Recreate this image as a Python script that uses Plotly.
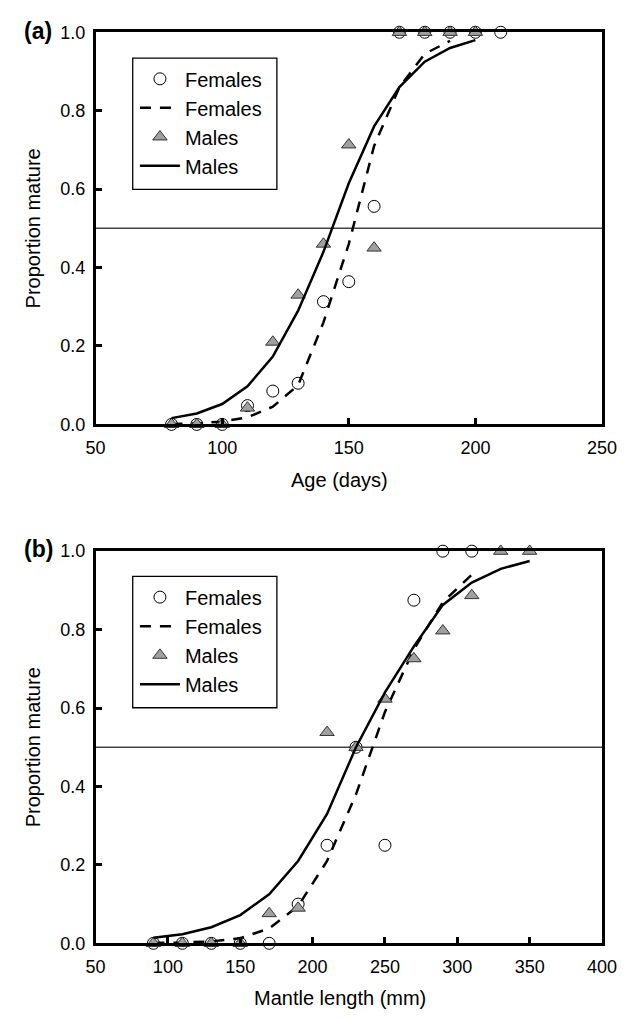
import plotly.graph_objects as go

# ---------------- data: panel (a) age ----------------
age_f_obs = [80, 90, 100, 110, 120, 130, 140, 150, 160, 170, 180, 190, 200, 210]
prop_f_age_obs = [0, 0, 0, 0.048, 0.085, 0.105, 0.313, 0.364, 0.556, 1, 1, 1, 1, 1]
age_m_obs = [80, 90, 100, 110, 120, 130, 140, 150, 160, 170, 180, 190, 200]
prop_m_age_obs = [0, 0, 0, 0.042, 0.21, 0.33, 0.46, 0.713, 0.45, 1, 1, 1, 1]
age_f_fit = [80, 90, 100, 110, 120, 130, 140, 150, 160, 170, 180, 190]
prop_f_age_fit = [0.001, 0.003, 0.007, 0.018, 0.045, 0.10, 0.26, 0.46, 0.71, 0.86, 0.945, 0.978]
age_m_fit = [80, 90, 100, 110, 120, 130, 140, 150, 160, 170, 180, 190, 200]
prop_m_age_fit = [0.016, 0.028, 0.052, 0.097, 0.173, 0.29, 0.44, 0.615, 0.76, 0.86, 0.925, 0.96, 0.98]

# ---------------- data: panel (b) mantle length ----------------
ml_f_obs = [90, 110, 130, 150, 170, 190, 210, 230, 250, 270, 290, 310]
prop_f_ml_obs = [0, 0, 0, 0, 0, 0.10, 0.25, 0.50, 0.25, 0.875, 1, 1]
ml_m_obs = [90, 110, 130, 150, 170, 190, 210, 230, 250, 270, 290, 310, 330, 350]
prop_m_ml_obs = [0, 0, 0, 0, 0.076, 0.09, 0.538, 0.50, 0.623, 0.726, 0.797, 0.887, 1, 1]
ml_f_fit = [90, 110, 130, 150, 170, 190, 210, 230, 250, 270, 290, 310]
prop_f_ml_fit = [0.001, 0.002, 0.005, 0.013, 0.038, 0.095, 0.21, 0.38, 0.59, 0.75, 0.87, 0.94]
ml_m_fit = [90, 110, 130, 150, 170, 190, 210, 230, 250, 270, 290, 310, 330, 350]
prop_m_ml_fit = [0.014, 0.023, 0.041, 0.072, 0.125, 0.21, 0.33, 0.50, 0.64, 0.757, 0.863, 0.92, 0.955, 0.975]

reference_level = 0.5
y_ticks = [0, 0.2, 0.4, 0.6, 0.8, 1.0]

FONT = "Liberation Sans, Arial, Helvetica, sans-serif"
W, H = 642, 1019

fig = go.Figure()


def add_panel(xa, ya, legend, fx, fy, ffx, ffy, mx, my, mfx, mfy):
    fig.add_trace(go.Scatter(x=fx, y=fy, mode="markers", name="Females",
                             xaxis=xa, yaxis=ya, legend=legend, cliponaxis=False,
                             marker=dict(symbol="circle", size=12, color="white",
                                         line=dict(color="black", width=1))))
    fig.add_trace(go.Scatter(x=ffx, y=ffy, mode="lines", name="Females",
                             xaxis=xa, yaxis=ya, legend=legend, cliponaxis=False,
                             line=dict(color="black", width=2.5, dash="11px,9px")))
    fig.add_trace(go.Scatter(x=mx, y=my, mode="markers", name="Males",
                             xaxis=xa, yaxis=ya, legend=legend, cliponaxis=False,
                             marker=dict(symbol="triangle-up", size=12.5, color="#a0a0a0",
                                         line=dict(color="#333333", width=1))))
    fig.add_trace(go.Scatter(x=mfx, y=mfy, mode="lines", name="Males",
                             xaxis=xa, yaxis=ya, legend=legend, cliponaxis=False,
                             line=dict(color="black", width=2.5)))


add_panel("x", "y", "legend", age_f_obs, prop_f_age_obs, age_f_fit, prop_f_age_fit,
          age_m_obs, prop_m_age_obs, age_m_fit, prop_m_age_fit)
add_panel("x2", "y2", "legend2", ml_f_obs, prop_f_ml_obs, ml_f_fit, prop_f_ml_fit,
          ml_m_obs, prop_m_ml_obs, ml_m_fit, prop_m_ml_fit)

# horizontal reference line at 0.5
for xr, yr in (("x domain", "y"), ("x2 domain", "y2")):
    fig.add_shape(type="line", xref=xr, yref=yr, x0=0, x1=1,
                  y0=reference_level, y1=reference_level,
                  line=dict(color="#444444", width=1.5), layer="below")

# legend frames (boxes behind the legends)
for top in (49, 577.7):
    fig.add_shape(type="rect", xref="paper", yref="paper",
                  x0=127.7 / W, x1=277.7 / W, y0=1 - (top + 134) / H, y1=1 - top / H,
                  line=dict(color="black", width=1.3), fillcolor="white", layer="above")

x_dom = [89 / W, 616 / W]
ya_dom = [1 - 422.7 / H, 1 - 22.7 / H]
yb_dom = [1 - 952 / H, 1 - 552 / H]

axis_common = dict(showline=True, linecolor="black", linewidth=2.5, mirror=True,
                   ticks="inside", ticklen=7, tickwidth=2.5, tickcolor="black",
                   showgrid=False, zeroline=False,
                   tickfont=dict(family=FONT, size=18, color="black"))

legend_common = dict(xanchor="left", yanchor="top",
                     bgcolor="rgba(0,0,0,0)", borderwidth=0,
                     font=dict(family=FONT, size=20, color="black"),
                     itemwidth=40, tracegroupgap=0)

fig.update_layout(
    width=W, height=H, autosize=False,
    margin=dict(l=0, r=0, t=0, b=0),
    paper_bgcolor="white", plot_bgcolor="white",
    font=dict(family=FONT, color="black"),
    xaxis=dict(domain=x_dom, anchor="y", range=[50, 250], dtick=50, tick0=50,
               ticklabelstandoff=5, **axis_common),
    yaxis=dict(domain=ya_dom, anchor="x", range=[0, 1], tickvals=y_ticks,
               tickformat=".1f", ticklabelstandoff=4, **axis_common),
    xaxis2=dict(domain=x_dom, anchor="y2", range=[50, 400], dtick=50, tick0=50,
                ticklabelstandoff=5, **axis_common),
    yaxis2=dict(domain=yb_dom, anchor="x2", range=[0, 1], tickvals=y_ticks,
                tickformat=".1f", ticklabelstandoff=4, **axis_common),
    legend=dict(x=130 / W, y=1 - 50.3 / H, **legend_common),
    legend2=dict(x=130 / W, y=1 - 579 / H, **legend_common),
    showlegend=True,
)

annots = [
    dict(text="<b>(a)</b>", x=29.5 / W, y=1 - 21 / H, font=dict(size=23)),
    dict(text="<b>(b)</b>", x=29.5 / W, y=1 - 550 / H, font=dict(size=23)),
    dict(text="Age (days)", x=343 / W, y=1 - 479 / H, font=dict(size=20)),
    dict(text="Mantle length (mm)", x=343 / W, y=1 - 1008 / H, font=dict(size=20)),
    dict(text="Proportion mature", x=24 / W, y=1 - 222.7 / H, font=dict(size=20), textangle=-90),
    dict(text="Proportion mature", x=24 / W, y=1 - 752 / H, font=dict(size=20), textangle=-90),
]
for a in annots:
    fig.add_annotation(xref="paper", yref="paper", showarrow=False,
                       xanchor="center", yanchor="middle",
                       x=a["x"], y=a["y"], text=a["text"],
                       textangle=a.get("textangle", 0),
                       font=dict(family=FONT, color="black", size=a["font"]["size"]))

fig.write_html("out.html")
